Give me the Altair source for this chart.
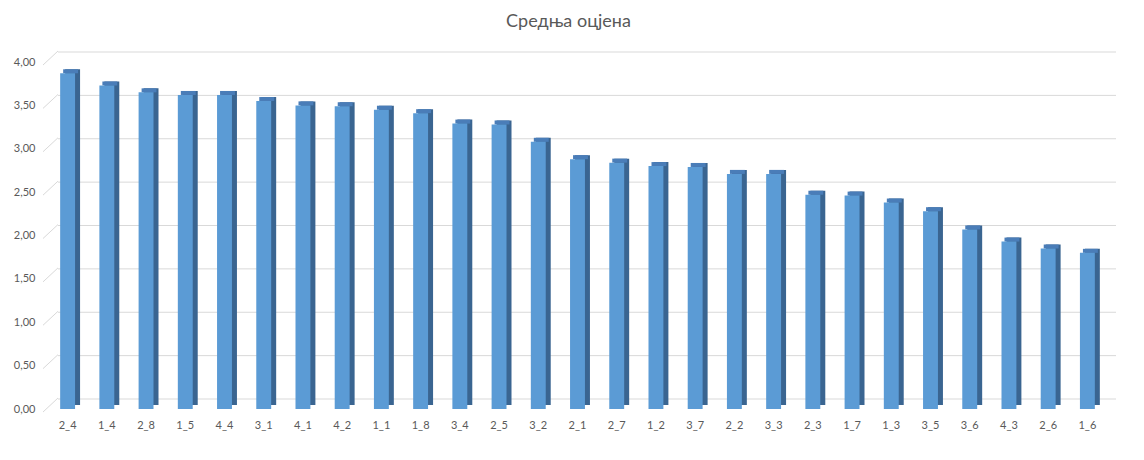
import altair as alt
import pandas as pd

categories = ["2_4", "1_4", "2_8", "1_5", "4_4", "3_1", "4_1", "4_2", "1_1", "1_8",
              "3_4", "2_5", "3_2", "2_1", "2_7", "1_2", "3_7", "2_2", "3_3", "2_3",
              "1_7", "1_3", "3_5", "3_6", "4_3", "2_6", "1_6"]
values = [3.87, 3.73, 3.65, 3.62, 3.62, 3.55, 3.50, 3.49, 3.45, 3.41,
          3.29, 3.28, 3.08, 2.88, 2.84, 2.80, 2.79, 2.71, 2.71, 2.47,
          2.46, 2.38, 2.28, 2.07, 1.93, 1.85, 1.80]
tick_values = [0.0, 0.5, 1.0, 1.5, 2.0, 2.5, 3.0, 3.5, 4.0]
title_text = "Средња оцјена"

FONT = "Lato"
TEXT = "#595959"
W, H = 1059, 347

df = pd.DataFrame({"cat": categories, "value": values})
grid_df = pd.DataFrame({"value": tick_values})

xenc = alt.X("cat:N", sort=categories, title=None,
             scale=alt.Scale(paddingInner=0.62, paddingOuter=0.31),
             axis=alt.Axis(labelAngle=0, ticks=False, domain=False, labelPadding=10,
                           labelFont=FONT, labelFontSize=11, labelColor=TEXT))
yscale = alt.Scale(domain=[0, 4])
yaxis = alt.Axis(values=tick_values, grid=False, ticks=False, domain=False,
                 labelPadding=13, labelFont=FONT, labelFontSize=11,
                 labelColor=TEXT,
                 labelExpr="replace(format(datum.value, '.2f'), '.', ',')")
yenc = alt.Y("value:Q", scale=yscale, title=None, axis=yaxis)

grid = alt.Chart(grid_df).mark_rule(color="#d9d9d9", strokeWidth=1, yOffset=-10).encode(
    y=yenc,
    x=alt.value(10), x2=alt.value(W + 9),
)
diag = alt.Chart(grid_df).mark_rule(color="#d9d9d9", strokeWidth=1, yOffset=3, y2Offset=-11).encode(
    y=yenc,
    y2="value:Q",
    x=alt.value(-5), x2=alt.value(10),
)

side = alt.Chart(df).mark_bar(color="#3A6591", xOffset=5, yOffset=-4).encode(
    x=xenc,
    y=yenc,
)
top = alt.Chart(df).mark_bar(color="#4A7DB8", xOffset=3, yOffset=-4, y2Offset=0).encode(
    x=xenc,
    y=yenc,
    y2="value:Q",
)
front = alt.Chart(df).mark_bar(color="#5B9BD5").encode(
    x=xenc,
    y=yenc,
)

chart = alt.layer(grid, diag, side, top, front).properties(
    width=W, height=H,
    title=alt.TitleParams(title_text, fontSize=18, font=FONT, color=TEXT,
                          fontWeight="normal", anchor="middle", offset=2,
                          baseline="bottom", dx=-9),
    autosize=alt.AutoSizeParams(type="none"),
    padding={"left": 40, "top": 54, "right": 25, "bottom": 38},
    background="white",
).configure_view(stroke=None)

chart.save("out.html", embed_options={"renderer": "svg", "actions": False})
